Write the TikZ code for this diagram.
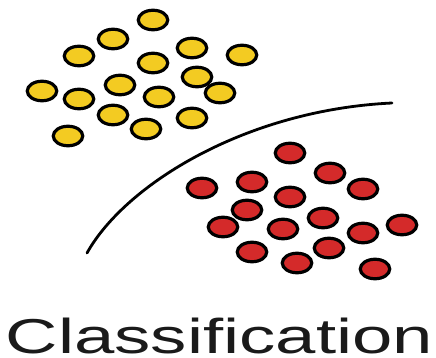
\documentclass[tikz,border=0pt]{standalone}
\usepackage{fontspec}
\setmainfont{Liberation Sans}
\usetikzlibrary{shapes.geometric}
\definecolor{dotyellow}{HTML}{F3CB22}
\definecolor{dotred}{HTML}{D42A2A}
\definecolor{ink}{HTML}{1A1A1A}
\tikzset{
  dotbase/.style={ellipse, draw=black, line width=3.2pt, minimum width=29.5pt, minimum height=19.5pt, inner sep=0pt},
  ydot/.style={dotbase, fill=dotyellow},
  rdot/.style={dotbase, fill=dotred},
  boundary/.style={line width=2.8pt, line cap=round, draw=black}
}
\begin{document}
\begin{tikzpicture}[x=1pt, y=-1pt]
\useasboundingbox (0,0) rectangle (436,358);

% yellow class
\foreach \n/\px/\py in {1/153/20, 2/113/39, 3/79/56, 4/192/48, 5/242/55, 6/153/63,
  7/197/77, 8/120/85, 9/42/91, 10/79/99, 11/159/97, 12/220/93, 13/113/115,
  14/192/118, 15/146/129, 16/68/136}
  \node[ydot] (y\n) at (\px,\py) {};

% red class
\foreach \n/\px/\py in {1/290/153, 2/330/173, 3/252/182, 4/202/188, 5/363/189,
  6/290/197, 7/247/210, 8/323/218, 9/223/227, 10/283/229, 11/363/233,
  12/402/225, 13/252/252, 14/329/248, 15/297/263, 16/375/269}
  \node[rdot] (r\n) at (\px,\py) {};

% decision boundary
\coordinate (b0) at (87,253);
\coordinate (b1) at (392,103);
\draw[boundary] (b0) .. controls (125,185) and (245,110) .. (b1);

% caption
\node[anchor=base, inner sep=0pt, text depth=0pt, text=ink, font=\fontsize{49}{52}\selectfont] (cap) at (219.5,353.5)
  {\scalebox{1.48}[1]{Classification}};
\end{tikzpicture}
\end{document}
